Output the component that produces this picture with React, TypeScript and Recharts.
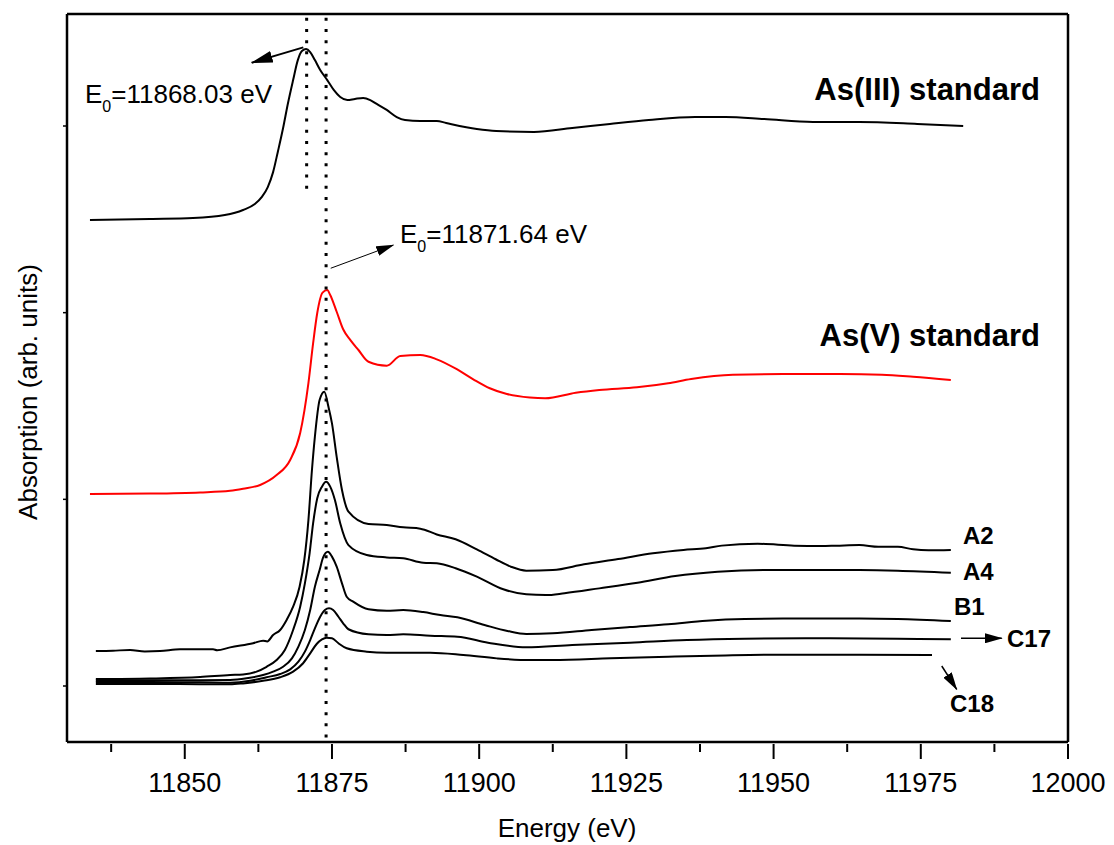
import React from "react";
import { LineChart, Line, XAxis, YAxis, ReferenceLine } from "recharts";

type Pair = [number, number];

// energy (eV), absorption (arb. units, curves stacked with offsets)
const asIII: Pair[] = [
  [11833.9, 2.496], [11844.1, 2.502], [11851.4, 2.507], [11856.8, 2.523], [11859.9, 2.55],
  [11861.9, 2.582], [11863.1, 2.62], [11864.1, 2.673], [11865.0, 2.753], [11865.8, 2.861],
  [11866.7, 2.989], [11867.5, 3.118], [11868.4, 3.246], [11869.2, 3.353], [11869.9, 3.402],
  [11870.6, 3.412], [11871.3, 3.396], [11872.1, 3.353], [11873.0, 3.3], [11874.2, 3.246],
  [11875.3, 3.193], [11876.4, 3.155], [11877.6, 3.139], [11878.9, 3.145], [11880.3, 3.15],
  [11881.5, 3.139], [11882.6, 3.118], [11884.3, 3.086], [11886.0, 3.048], [11887.4, 3.032],
  [11890.0, 3.027], [11892.8, 3.027], [11894.4, 3.016], [11899.6, 2.984], [11902.9, 2.973],
  [11909.3, 2.968], [11915.8, 2.989], [11922.2, 3.011], [11928.8, 3.032], [11936.7, 3.048],
  [11941.8, 3.048], [11948.4, 3.037], [11956.7, 3.021], [11964.5, 3.021], [11974.4, 3.011],
  [11982.2, 3.0],
];

const asV: Pair[] = [
  [11833.9, 1.029], [11844.1, 1.031], [11852.6, 1.037], [11857.7, 1.046], [11859.9, 1.057],
  [11862.8, 1.077], [11865.6, 1.13], [11867.9, 1.211], [11869.6, 1.355], [11871.0, 1.623],
  [11871.8, 1.837], [11872.5, 1.998], [11873.4, 2.107], [11874.2, 2.121], [11874.7, 2.095],
  [11875.8, 2.005], [11876.9, 1.911], [11878.1, 1.854], [11879.5, 1.8], [11881.2, 1.737],
  [11884.3, 1.716], [11886.6, 1.768], [11890.0, 1.773], [11892.8, 1.75], [11896.2, 1.697],
  [11899.0, 1.643], [11901.8, 1.595], [11904.7, 1.564], [11908.6, 1.545], [11911.2, 1.541],
  [11916.4, 1.571], [11920.4, 1.586], [11926.8, 1.6], [11932.1, 1.622], [11936.0, 1.645],
  [11943.1, 1.668], [11951.6, 1.671], [11961.3, 1.671], [11968.4, 1.668], [11973.7, 1.657],
  [11980.1, 1.639],
];

const a2: Pair[] = [
  [11834.9, 0.187], [11837.8, 0.189], [11840.7, 0.193], [11843.2, 0.185], [11845.8, 0.187],
  [11849.2, 0.197], [11852.6, 0.197], [11854.8, 0.197], [11855.5, 0.191], [11857.7, 0.207],
  [11861.6, 0.229], [11863.3, 0.243], [11864.0, 0.239], [11865.0, 0.273], [11866.2, 0.3],
  [11867.3, 0.354], [11868.4, 0.425], [11869.5, 0.532], [11870.3, 0.675], [11871.0, 0.889],
  [11871.6, 1.157], [11872.1, 1.336], [11872.9, 1.532], [11873.7, 1.577], [11874.4, 1.496],
  [11875.0, 1.407], [11875.8, 1.228], [11876.7, 1.05], [11877.8, 0.934], [11881.2, 0.868],
  [11884.3, 0.862], [11887.1, 0.85], [11890.0, 0.843], [11892.8, 0.812], [11896.0, 0.786],
  [11899.6, 0.732], [11902.8, 0.679], [11905.4, 0.639], [11908.0, 0.618], [11912.5, 0.621],
  [11917.8, 0.652], [11923.6, 0.68], [11929.5, 0.711], [11934.7, 0.729], [11938.5, 0.738],
  [11941.2, 0.752], [11947.3, 0.762], [11953.5, 0.752], [11958.1, 0.75], [11960.7, 0.752],
  [11964.6, 0.755], [11967.8, 0.746], [11971.1, 0.746], [11973.7, 0.732], [11976.3, 0.727],
  [11980.1, 0.729],
];

const a4: Pair[] = [
  [11834.9, 0.037], [11844.1, 0.04], [11852.6, 0.048], [11857.7, 0.059], [11859.9, 0.062],
  [11862.2, 0.077], [11863.9, 0.103], [11865.6, 0.139], [11867.0, 0.193], [11868.4, 0.3],
  [11869.6, 0.425], [11870.4, 0.55], [11871.2, 0.711], [11871.8, 0.872], [11872.5, 1.006],
  [11873.3, 1.068], [11874.0, 1.094], [11874.7, 1.068], [11875.5, 0.996], [11876.4, 0.872],
  [11877.8, 0.755], [11880.9, 0.702], [11884.3, 0.689], [11887.1, 0.684], [11890.5, 0.66],
  [11892.8, 0.657], [11896.0, 0.631], [11899.6, 0.586], [11904.1, 0.518], [11908.0, 0.491],
  [11911.3, 0.487], [11914.5, 0.497], [11920.4, 0.523], [11926.9, 0.553], [11933.3, 0.589],
  [11940.5, 0.612], [11948.3, 0.621], [11958.1, 0.621], [11964.6, 0.621], [11971.1, 0.618],
  [11980.1, 0.607],
];

const b1: Pair[] = [
  [11834.9, 0.029], [11844.1, 0.031], [11852.6, 0.031], [11857.7, 0.032], [11860.5, 0.041],
  [11863.3, 0.059], [11865.0, 0.077], [11866.7, 0.103], [11868.2, 0.148], [11869.3, 0.211],
  [11870.4, 0.3], [11871.3, 0.407], [11872.1, 0.532], [11872.9, 0.621], [11873.5, 0.689],
  [11874.3, 0.719], [11875.0, 0.693], [11875.8, 0.639], [11876.7, 0.55], [11877.5, 0.478],
  [11878.6, 0.452], [11881.2, 0.411], [11884.3, 0.403], [11887.1, 0.407], [11890.5, 0.396],
  [11893.4, 0.38], [11896.3, 0.368], [11900.9, 0.327], [11904.8, 0.295], [11908.0, 0.279],
  [11912.5, 0.282], [11919.1, 0.3], [11925.6, 0.316], [11932.1, 0.331], [11938.6, 0.35],
  [11945.1, 0.359], [11951.6, 0.361], [11964.6, 0.361], [11971.1, 0.359], [11980.1, 0.348],
];

const c17: Pair[] = [
  [11834.9, 0.021], [11844.1, 0.021], [11852.6, 0.02], [11857.7, 0.018], [11861.1, 0.028],
  [11863.9, 0.047], [11866.2, 0.064], [11867.9, 0.089], [11869.3, 0.13], [11870.4, 0.184],
  [11871.3, 0.246], [11872.1, 0.309], [11873.0, 0.371], [11873.8, 0.407], [11874.5, 0.416],
  [11875.2, 0.407], [11876.1, 0.371], [11876.9, 0.336], [11877.8, 0.304], [11881.2, 0.277],
  [11884.3, 0.273], [11887.1, 0.277], [11891.7, 0.269], [11896.3, 0.264], [11901.5, 0.232],
  [11908.0, 0.207], [11915.8, 0.22], [11925.6, 0.232], [11935.3, 0.246], [11945.1, 0.253],
  [11958.1, 0.256], [11971.1, 0.253], [11980.1, 0.25],
];

const c18: Pair[] = [
  [11834.9, 0.011], [11844.1, 0.011], [11852.6, 0.01], [11857.7, 0.009], [11859.9, 0.014],
  [11863.3, 0.028], [11866.2, 0.047], [11868.4, 0.077], [11870.1, 0.122], [11871.3, 0.175],
  [11872.4, 0.225], [11873.3, 0.25], [11874.1, 0.259], [11875.0, 0.256], [11876.1, 0.229],
  [11877.5, 0.202], [11880.9, 0.184], [11884.3, 0.178], [11891.7, 0.178], [11897.3, 0.166],
  [11903.0, 0.148], [11908.6, 0.139], [11912.5, 0.139], [11922.3, 0.148], [11932.1, 0.157],
  [11941.8, 0.164], [11951.6, 0.168], [11964.6, 0.168], [11976.9, 0.166],
];

const majorTicks = [11850, 11875, 11900, 11925, 11950, 11975, 12000];
const minorTicks = [11837.5, 11862.5, 11887.5, 11912.5, 11937.5, 11962.5, 11987.5];
const yTicks = [0, 1, 2, 3];

// edge positions marked by the dotted lines
const e0AsIII = 11870.7;
const e0AsV = 11874.0;

const FONT = "Arial, 'Liberation Sans', Helvetica, sans-serif";
const allTicks = [...majorTicks, ...minorTicks].sort((a, b) => a - b);

const toPoints = (pairs: Pair[]) => pairs.map(([e, a]) => ({ e, a }));

const series = [
  { key: "asIII", data: asIII, color: "#000" },
  { key: "asV", data: asV, color: "#ff0000" },
  { key: "a2", data: a2, color: "#000" },
  { key: "a4", data: a4, color: "#000" },
  { key: "b1", data: b1, color: "#000" },
  { key: "c17", data: c17, color: "#000" },
  { key: "c18", data: c18, color: "#000" },
];

const BottomTick = (props: any) => {
  const { x, y, payload } = props;
  const major = majorTicks.includes(payload.value);
  return (
    <g>
      <line x1={x} x2={x} y1={y} y2={y + (major ? 15 : 8)} stroke="#000" strokeWidth={2} />
      {major && (
        <text x={x} y={y + 48} textAnchor="middle" fontSize={27} fontFamily={FONT} fill="#000">
          {payload.value}
        </text>
      )}
    </g>
  );
};

const TopTick = (props: any) => (
  <line x1={props.x} x2={props.x} y1={props.y} y2={props.y + 3} stroke="#000" strokeWidth={1.5} />
);

const LeftTick = (props: any) => (
  <line x1={props.x - 2} x2={props.x + 3} y1={props.y} y2={props.y} stroke="#000" strokeWidth={1.5} />
);

const RightTick = (props: any) => (
  <line x1={props.x - 3} x2={props.x + 2} y1={props.y} y2={props.y} stroke="#000" strokeWidth={1.5} />
);

const arrowShape = (marker: string, width: number) => (p: any) => (
  <line
    x1={p.x1}
    y1={p.y1}
    x2={p.x2}
    y2={p.y2}
    stroke="#000"
    strokeWidth={width}
    markerEnd={`url(#${marker})`}
  />
);

const axisLine = { stroke: "#000", strokeWidth: 2.5 };

export default function App() {
  return (
    <div style={{ position: "absolute", left: 0, top: 0, background: "#fff" }}>
      <svg width={0} height={0} style={{ position: "absolute" }}>
        <defs>
          <marker id="headBig" markerUnits="userSpaceOnUse" markerWidth={22} markerHeight={12} refX={21} refY={6} orient="auto">
            <path d="M0,0 L22,6 L0,12 Z" fill="#000" />
          </marker>
          <marker id="headSmall" markerUnits="userSpaceOnUse" markerWidth={18} markerHeight={10} refX={17} refY={5} orient="auto">
            <path d="M0,0 L18,5 L0,10 Z" fill="#000" />
          </marker>
        </defs>
      </svg>
      <LineChart width={1114} height={845} margin={{ top: 13, right: 45, bottom: 0, left: 66 }}>
        <XAxis
          dataKey="e"
          type="number"
          domain={[11830, 12000]}
          ticks={allTicks}
          interval={0}
          tickSize={0}
          tickLine={false}
          tick={BottomTick}
          height={103}
          axisLine={axisLine}
        />
        <XAxis
          xAxisId="top"
          orientation="top"
          type="number"
          domain={[11830, 12000]}
          ticks={allTicks}
          interval={0}
          tickSize={0}
          tickLine={false}
          tick={TopTick}
          height={1}
          axisLine={axisLine}
        />
        <YAxis
          type="number"
          domain={[-0.3, 3.6]}
          ticks={yTicks}
          interval={0}
          tickSize={0}
          tickLine={false}
          tick={LeftTick}
          width={1}
          axisLine={axisLine}
        />
        <YAxis
          yAxisId="right"
          orientation="right"
          type="number"
          domain={[-0.3, 3.6]}
          ticks={yTicks}
          interval={0}
          tickSize={0}
          tickLine={false}
          tick={RightTick}
          width={1}
          axisLine={axisLine}
        />

        {series.map((s) => (
          <Line
            key={s.key}
            data={toPoints(s.data)}
            dataKey="a"
            type="monotone"
            stroke={s.color}
            strokeWidth={2}
            dot={false}
            activeDot={false}
            isAnimationActive={false}
          />
        ))}

        <ReferenceLine
          segment={[{ x: e0AsIII, y: 3.58 }, { x: e0AsIII, y: 2.66 }]}
          stroke="#000"
          strokeWidth={3}
          strokeDasharray="3 8.2"
        />
        <ReferenceLine
          segment={[{ x: e0AsV, y: 3.58 }, { x: e0AsV, y: -0.29 }]}
          stroke="#000"
          strokeWidth={3}
          strokeDasharray="3 8.2"
        />
        <ReferenceLine
          segment={[{ x: 11870.13, y: 3.421 }, { x: 11861.37, y: 3.339 }]}
          shape={arrowShape("headBig", 2)}
        />
        <ReferenceLine
          segment={[{ x: 11874.79, y: 2.238 }, { x: 11885.42, y: 2.362 }]}
          shape={arrowShape("headSmall", 1)}
        />
        <ReferenceLine
          segment={[{ x: 11981.83, y: 0.2555 }, { x: 11988.75, y: 0.2555 }]}
          shape={arrowShape("headSmall", 1.5)}
        />
        <ReferenceLine
          segment={[{ x: 11978.56, y: 0.107 }, { x: 11981.1, y: -0.018 }]}
          shape={arrowShape("headSmall", 1.5)}
        />

        <text x={85} y={103} fontSize={26} fontFamily={FONT} fill="#000">
          E<tspan fontSize={16} dy={9}>0</tspan>
          <tspan dy={-9}>=11868.03 eV</tspan>
        </text>
        <text x={400} y={243} fontSize={26} fontFamily={FONT} fill="#000">
          E<tspan fontSize={16} dy={9}>0</tspan>
          <tspan dy={-9}>=11871.64 eV</tspan>
        </text>
        <text x={1040} y={100} textAnchor="end" fontSize={31} fontWeight="bold" fontFamily={FONT} fill="#000">
          As(III) standard
        </text>
        <text x={1040} y={346} textAnchor="end" fontSize={31} fontWeight="bold" fontFamily={FONT} fill="#000">
          As(V) standard
        </text>
        <text x={963} y={544} fontSize={24} fontWeight="bold" fontFamily={FONT} fill="#000">A2</text>
        <text x={963} y={580} fontSize={24} fontWeight="bold" fontFamily={FONT} fill="#000">A4</text>
        <text x={954} y={615} fontSize={24} fontWeight="bold" fontFamily={FONT} fill="#000">B1</text>
        <text x={1007} y={647} fontSize={24} fontWeight="bold" fontFamily={FONT} fill="#000">C17</text>
        <text x={950} y={712} fontSize={24} fontWeight="bold" fontFamily={FONT} fill="#000">C18</text>

        <text x={567} y={837} textAnchor="middle" fontSize={26} fontFamily={FONT} fill="#000">
          Energy (eV)
        </text>
        <text
          x={37}
          y={392}
          transform="rotate(-90 37 392)"
          textAnchor="middle"
          fontSize={26}
          fontFamily={FONT}
          fill="#000"
        >
          Absorption (arb. units)
        </text>
      </LineChart>
    </div>
  );
}
